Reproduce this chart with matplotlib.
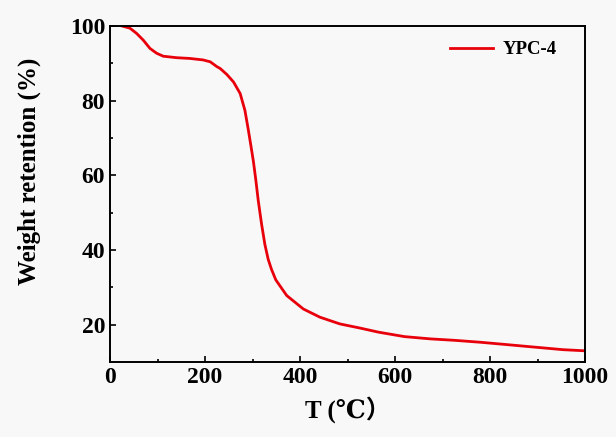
import matplotlib.pyplot as plt
import numpy as np

temp = [25, 42, 56, 70, 84, 98, 112, 140, 168, 196, 211, 225, 232, 246,
        260, 274, 284, 291, 296, 302, 307, 312, 319, 326, 333, 340, 349,
        372, 407, 442, 484, 526, 565, 620, 674, 726, 779, 832, 884, 954,
        1000]
weight = [100, 99.4, 98.0, 96.2, 94.0, 92.7, 91.9, 91.5, 91.3, 90.9, 90.4,
          89.1, 88.6, 87.0, 85.0, 81.9, 77.4, 72.3, 68.4, 63.6, 58.7, 53.3,
          47.0, 41.5, 37.5, 34.8, 32.0, 27.8, 24.2, 22.0, 20.2, 19.1, 18.0,
          16.8, 16.2, 15.8, 15.3, 14.7, 14.1, 13.3, 13.0]
series_name = 'YPC-4'

plt.rcParams['font.family'] = ['Liberation Serif', 'DejaVu Serif', 'Noto Sans CJK SC']
plt.rcParams['font.weight'] = 'bold'

fig = plt.figure(figsize=(6.16, 4.37), dpi=100)
fig.patch.set_facecolor('#f8f8f8')
ax = fig.add_axes([0.1786, 0.1716, 0.7711, 0.769])
ax.set_facecolor('#f8f8f8')

ax.plot(temp, weight, color='#e8000b', lw=2.0, label=series_name)

ax.set_xlim(0, 1000)
ax.set_ylim(10, 100)
ax.set_xticks([0, 200, 400, 600, 800, 1000])
ax.set_xticks([100, 300, 500, 700, 900], minor=True)
ax.set_yticks([20, 40, 60, 80, 100])
ax.set_yticks([30, 50, 70, 90], minor=True)
ax.tick_params(which='both', direction='in', labelsize=17, width=1.2)
ax.tick_params(which='major', length=4)
ax.tick_params(which='minor', length=2.5)
for s in ax.spines.values():
    s.set_linewidth(1.4)

ax.set_xlabel('T (℃）', fontsize=18, fontweight='bold', labelpad=6)
ax.set_ylabel('Weight retention (%)', fontsize=18, fontweight='bold')
ax.yaxis.set_label_coords(-0.145, 0.568)

ax.legend(loc='upper right', frameon=False, fontsize=13.5, handlelength=2.3,
          handletextpad=0.5, bbox_to_anchor=(0.975, 1.005))

plt.savefig('out.png', dpi=100, facecolor=fig.get_facecolor())
